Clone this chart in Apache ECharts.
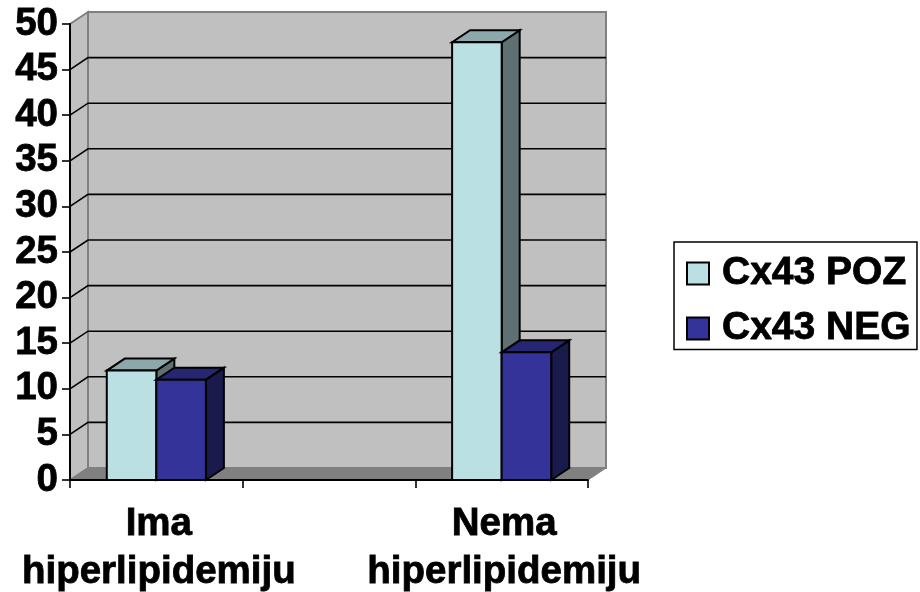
<!DOCTYPE html>
<html><head><meta charset="utf-8">
<style>html,body{margin:0;padding:0;background:#fff}#c{width:920px;height:592px}</style>
<script src="https://cdn.jsdelivr.net/npm/echarts@6/dist/echarts.min.js"></script>
</head><body><div id="c"></div>
<script>
var categories = ['Ima\nhiperlipidemiju', '', 'Nema\nhiperlipidemiju'];
var pozValues = [12, null, 48];
var negValues = [11, null, 14];
var yTicks = [0, 5, 10, 15, 20, 25, 30, 35, 40, 45, 50];
var seriesNames = ['Cx43 POZ', 'Cx43 NEG'];

var DX = 18, DY = -12, FONT = 'Liberation Sans';
function poly(points, fill, stroke, w) {
  return { type: 'polygon', shape: { points: points },
    style: { fill: fill, stroke: stroke, lineWidth: w, lineJoin: 'miter' } };
}
function wallItem(params, api) {
  var cs = params.coordSys, x0 = cs.x, x1 = cs.x + cs.width;
  var yb = api.coord([0, yTicks[0]])[1], yt = api.coord([0, yTicks[yTicks.length - 1]])[1];
  var y = api.coord([0, api.value(1)])[1];
  var children = [];
  if (params.dataIndex === 0) {
    children.push(poly([[x0, yb], [x0 + DX, yb + DY], [x0 + DX, yt + DY], [x0, yt]], '#c0c0c0', '#808080', 2));
    children.push(poly([[x0 + DX, yb + DY], [x1 + DX, yb + DY], [x1 + DX, yt + DY], [x0 + DX, yt + DY]], '#c0c0c0', '#808080', 2));
    children.push(poly([[x0, yb], [x1, yb], [x1 + DX, yb + DY], [x0 + DX, yb + DY]], '#808080', '#808080', 1));
  } else if (params.dataIndex < yTicks.length - 1) {
    children.push({ type: 'polyline', shape: { points: [[x0, y], [x0 + DX, y + DY], [x1 + DX, y + DY]] }, style: { stroke: '#000', lineWidth: 1.6, fill: null } });
  }
  return { type: 'group', children: children };
}
function barRenderer(side, front, top, right) {
  return function (params, api) {
    var c = api.coord([api.value(0), api.value(1)]);
    var base = api.coord([api.value(0), 0])[1];
    var w = api.size([1, 0])[0] * 0.287;
    var xl = side < 0 ? c[0] - w : c[0], xr = xl + w, yt = c[1];
    return { type: 'group', children: [
      poly([[xr, base], [xr + DX, base + DY], [xr + DX, yt + DY], [xr, yt]], right, '#000', 2),
      poly([[xl, yt], [xr, yt], [xr + DX, yt + DY], [xl + DX, yt + DY]], top, '#000', 2),
      poly([[xl, base], [xr, base], [xr, yt], [xl, yt]], front, '#000', 2)
    ] };
  };
}
function toData(vals) {
  var out = [];
  vals.forEach(function (v, i) { if (v !== null) out.push([i, v]); });
  return out;
}
var chart = echarts.init(document.getElementById('c'), null, { renderer: 'canvas' });
chart.setOption({
  animation: false,
  backgroundColor: '#fff',
  grid: { left: 70, top: 24, width: 518, height: 456, containLabel: false, outerBoundsMode: 'none' },
  legend: {
    data: seriesNames, orient: 'vertical', left: 674, top: 242, icon: 'rect',
    padding: [10.5, 6, 0, 12], itemGap: 13, itemWidth: 22, itemHeight: 22,
    borderColor: '#000', borderWidth: 1.5, backgroundColor: '#fff', selectedMode: false,
    textStyle: { fontFamily: FONT, fontWeight: 'bold', fontSize: 39, lineHeight: 42, color: '#000', padding: [0, 0, 0, 8], textBorderColor: '#000', textBorderWidth: 0.8 }
  },
  xAxis: {
    type: 'category', data: categories, z: 10,
    axisLine: { lineStyle: { color: '#000', width: 2 } },
    axisTick: { show: true, length: 8, interval: 0, alignWithLabel: false, lineStyle: { color: '#000', width: 1.6 } },
    axisLabel: { interval: 0, margin: 20, fontFamily: FONT, fontWeight: 'bold', fontSize: 38.5, lineHeight: 48, color: '#000', hideOverlap: false, padding: [0, 0, 0, 5], textBorderColor: '#000', textBorderWidth: 0.8 },
    splitLine: { show: false }
  },
  yAxis: {
    type: 'value', min: 0, max: 50, interval: 5, z: 10,
    axisLine: { show: true, lineStyle: { color: '#000', width: 2 } },
    axisTick: { show: true, length: 8, lineStyle: { color: '#000', width: 1.6 } },
    axisLabel: { margin: 12, fontFamily: FONT, fontWeight: 'bold', fontSize: 38.5, color: '#000', padding: [4, 0, 0, 0], textBorderColor: '#000', textBorderWidth: 0.8 },
    splitLine: { show: false }
  },
  series: [
    { type: 'custom', name: 'walls', silent: true, z: 1, renderItem: wallItem,
      encode: { x: 0, y: 1 }, data: yTicks.map(function (t) { return [0, t]; }) },
    { type: 'custom', name: seriesNames[0], z: 3, renderItem: barRenderer(-1, '#bbe0e3', '#8ca8aa', '#5e7072'),
      itemStyle: { color: '#bbe0e3', borderColor: '#000', borderWidth: 1.5 },
      encode: { x: 0, y: 1 }, data: toData(pozValues) },
    { type: 'custom', name: seriesNames[1], z: 4, renderItem: barRenderer(1, '#333399', '#262673', '#1a1a4d'),
      itemStyle: { color: '#333399', borderColor: '#000', borderWidth: 1.5 },
      encode: { x: 0, y: 1 }, data: toData(negValues) }
  ]
});
</script></body></html>
